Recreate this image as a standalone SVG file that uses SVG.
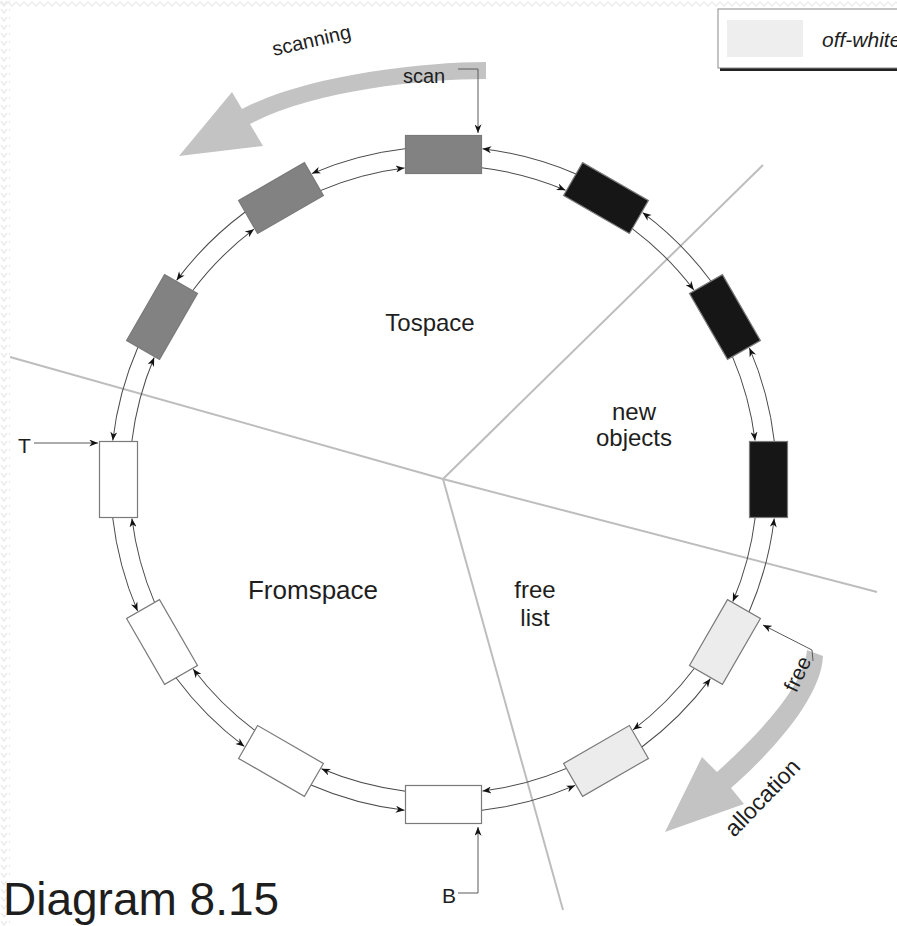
<svg xmlns="http://www.w3.org/2000/svg" width="897" height="926" viewBox="0 0 897 926">
<defs>
<style>
.lbl{font-family:"Liberation Sans",Arial,sans-serif;fill:#1e1e1e}
.rect{stroke:#7a7a7a;stroke-width:1.2}
.dark{fill:#161616}
.gray{fill:#828282}
.white{fill:#ffffff}
.offw{fill:#ececec}
.arc{fill:none;stroke:#4a4a4a;stroke-width:1;marker-end:url(#ah)}
.lead{fill:none;stroke:#5a5a5a;stroke-width:1;marker-end:url(#ah)}
.div{stroke:#bdbdbd;stroke-width:2;fill:none}
.band{fill:#c3c3c3}
</style>
<marker id="ah" viewBox="0 0 10 8" refX="10" refY="4" markerWidth="9" markerHeight="7" markerUnits="userSpaceOnUse" orient="auto">
<path d="M0,0 L10,4 L0,8 L3,4 z" fill="#111"/>
</marker>
<pattern id="zzTop" width="8" height="8" patternUnits="userSpaceOnUse">
<path d="M0,2 L4,6 L8,2" fill="none" stroke="#ececec" stroke-width="1.5"/>
</pattern>
<pattern id="zzLeft" width="8" height="8" patternUnits="userSpaceOnUse">
<path d="M1,1 L4,5 L7,1" fill="none" stroke="#ececec" stroke-width="1.5"/>
</pattern>
</defs>
<rect width="897" height="926" fill="#ffffff"/>
<rect x="0" y="0" width="897" height="8" fill="url(#zzTop)"/>
<rect x="0" y="0" width="10" height="926" fill="url(#zzLeft)"/>

<g id="dividers">
<line class="div" x1="10" y1="357" x2="443" y2="479"/>
<line class="div" x1="443" y1="479" x2="877" y2="592"/>
<line class="div" x1="443" y1="479" x2="763" y2="165"/>
<line class="div" x1="443" y1="479" x2="563" y2="910"/>
</g>

<g id="bands">
<path class="band" d="M486,62 C420,62 304,76 242,109 L232,92 L179,156 L263,146 L250,124 C312,91 420,79 486,79 Z"/>
<path class="band" d="M823,656 C821,702 762,761 731,788 L744,804 L665,832 L702,757 L717,772 C747,745 804,690 807,650 Z"/>
</g>

<g id="connectors">
<path class="arc" d="M405.51,148.67 A333,333 0 0 0 311.93,173.59"/>
<path class="arc" d="M320.57,190.56 A314,314 0 0 1 404.50,167.93"/>
<path class="arc" d="M405.51,148.67 A333,333 0 0 0 311.93,173.59" transform="rotate(30 443.5 479.5)"/>
<path class="arc" d="M320.57,190.56 A314,314 0 0 1 404.50,167.93" transform="rotate(30 443.5 479.5)"/>
<path class="arc" d="M405.51,148.67 A333,333 0 0 0 311.93,173.59" transform="rotate(60 443.5 479.5)"/>
<path class="arc" d="M320.57,190.56 A314,314 0 0 1 404.50,167.93" transform="rotate(60 443.5 479.5)"/>
<path class="arc" d="M405.51,148.67 A333,333 0 0 0 311.93,173.59" transform="rotate(90 443.5 479.5)"/>
<path class="arc" d="M320.57,190.56 A314,314 0 0 1 404.50,167.93" transform="rotate(90 443.5 479.5)"/>
<path class="arc" d="M405.51,148.67 A333,333 0 0 0 311.93,173.59" transform="rotate(120 443.5 479.5)"/>
<path class="arc" d="M320.57,190.56 A314,314 0 0 1 404.50,167.93" transform="rotate(120 443.5 479.5)"/>
<path class="arc" d="M405.51,148.67 A333,333 0 0 0 311.93,173.59" transform="rotate(150 443.5 479.5)"/>
<path class="arc" d="M320.57,190.56 A314,314 0 0 1 404.50,167.93" transform="rotate(150 443.5 479.5)"/>
<path class="arc" d="M405.51,148.67 A333,333 0 0 0 311.93,173.59" transform="rotate(180 443.5 479.5)"/>
<path class="arc" d="M320.57,190.56 A314,314 0 0 1 404.50,167.93" transform="rotate(180 443.5 479.5)"/>
<path class="arc" d="M405.51,148.67 A333,333 0 0 0 311.93,173.59" transform="rotate(210 443.5 479.5)"/>
<path class="arc" d="M320.57,190.56 A314,314 0 0 1 404.50,167.93" transform="rotate(210 443.5 479.5)"/>
<path class="arc" d="M405.51,148.67 A333,333 0 0 0 311.93,173.59" transform="rotate(240 443.5 479.5)"/>
<path class="arc" d="M320.57,190.56 A314,314 0 0 1 404.50,167.93" transform="rotate(240 443.5 479.5)"/>
<path class="arc" d="M405.51,148.67 A333,333 0 0 0 311.93,173.59" transform="rotate(270 443.5 479.5)"/>
<path class="arc" d="M320.57,190.56 A314,314 0 0 1 404.50,167.93" transform="rotate(270 443.5 479.5)"/>
<path class="arc" d="M405.51,148.67 A333,333 0 0 0 311.93,173.59" transform="rotate(300 443.5 479.5)"/>
<path class="arc" d="M320.57,190.56 A314,314 0 0 1 404.50,167.93" transform="rotate(300 443.5 479.5)"/>
<path class="arc" d="M405.51,148.67 A333,333 0 0 0 311.93,173.59" transform="rotate(330 443.5 479.5)"/>
<path class="arc" d="M320.57,190.56 A314,314 0 0 1 404.50,167.93" transform="rotate(330 443.5 479.5)"/>
<path class="lead" d="M458,69 L478,69 L478,133"/>
<path class="lead" d="M34,443 L98,443"/>
<path class="lead" d="M458,893 L478,893 L478,827"/>
<path class="lead" d="M813,661 L812,650 L763,625"/>
</g>

<g id="n90"><rect class="rect gray" x="-38" y="-19" width="76" height="38" transform="translate(443.5,154.5)"/></g>
<g id="n60"><rect class="rect dark" x="-38" y="-19" width="76" height="38" transform="translate(606,198.04) rotate(30)"/></g>
<g id="n30"><rect class="rect dark" x="-38" y="-19" width="76" height="38" transform="translate(724.96,317) rotate(60)"/></g>
<g id="n0"><rect class="rect dark" x="-38" y="-19" width="76" height="38" transform="translate(768.5,479.5) rotate(90)"/></g>
<g id="n330"><rect class="rect offw" x="-38" y="-19" width="76" height="38" transform="translate(724.96,642) rotate(120)"/></g>
<g id="n300"><rect class="rect offw" x="-38" y="-19" width="76" height="38" transform="translate(606,760.96) rotate(150)"/></g>
<g id="n270"><rect class="rect white" x="-38" y="-19" width="76" height="38" transform="translate(443.5,804.5) rotate(180)"/></g>
<g id="n240"><rect class="rect white" x="-38" y="-19" width="76" height="38" transform="translate(281,760.96) rotate(210)"/></g>
<g id="n210"><rect class="rect white" x="-38" y="-19" width="76" height="38" transform="translate(162.04,642) rotate(240)"/></g>
<g id="n180"><rect class="rect white" x="-38" y="-19" width="76" height="38" transform="translate(118.5,479.5) rotate(270)"/></g>
<g id="n150"><rect class="rect gray" x="-38" y="-19" width="76" height="38" transform="translate(162.04,317) rotate(300)"/></g>
<g id="n120"><rect class="rect gray" x="-38" y="-19" width="76" height="38" transform="translate(281,198.04) rotate(330)"/></g>

<g id="labels">
<text class="lbl" x="430" y="331" font-size="24" text-anchor="middle">Tospace</text>
<text class="lbl" x="634" y="420" font-size="24" text-anchor="middle">new</text>
<text class="lbl" x="634" y="446" font-size="24" text-anchor="middle">objects</text>
<text class="lbl" x="313" y="599" font-size="26" text-anchor="middle">Fromspace</text>
<text class="lbl" x="535" y="598" font-size="24" text-anchor="middle">free</text>
<text class="lbl" x="535" y="626" font-size="24" text-anchor="middle">list</text>
<text class="lbl" x="18" y="453" font-size="21">T</text>
<text class="lbl" x="442" y="903" font-size="21">B</text>
<text class="lbl" x="403" y="83" font-size="20">scan</text>
<text class="lbl" font-size="20" text-anchor="middle" transform="translate(313,47) rotate(-13)">scanning</text>
<text class="lbl" font-size="21" text-anchor="middle" transform="translate(804,677) rotate(-65)">free</text>
<text class="lbl" font-size="23" text-anchor="middle" transform="translate(768,803) rotate(-46)">allocation</text>
<text class="lbl" x="3" y="915" font-size="46">Diagram 8.15</text>
</g>

<g id="legend">
<rect x="720" y="12" width="190" height="59" fill="#222"/>
<rect x="718" y="9" width="190" height="59" fill="#ffffff" stroke="#8a8a8a" stroke-width="1"/>
<rect x="727" y="20" width="76" height="37" fill="#eeeeee"/>
<text class="lbl" x="822" y="47" font-size="21" font-style="italic">off-white</text>
</g>
</svg>
